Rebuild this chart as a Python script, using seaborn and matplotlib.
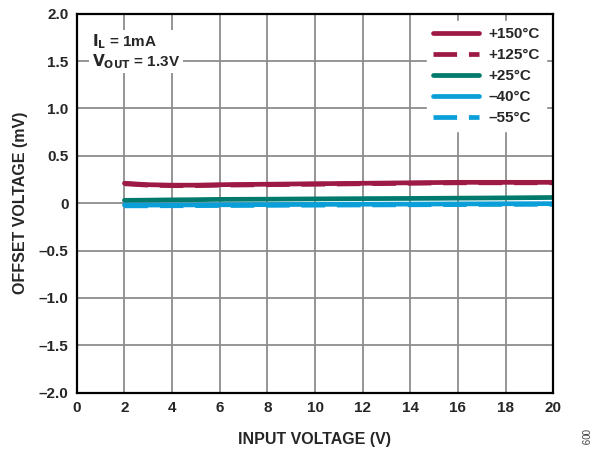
import numpy as np
import pandas as pd
import matplotlib
matplotlib.use('Agg')
import matplotlib.pyplot as plt
import seaborn as sns

# Data
input_voltage = [2, 3, 4, 5, 6, 8, 10, 12, 14, 16, 18, 20]
offset_150 = [0.21, 0.195, 0.19, 0.19, 0.195, 0.20, 0.205, 0.21, 0.215, 0.22, 0.22, 0.22]
offset_125 = [0.205, 0.19, 0.185, 0.185, 0.19, 0.195, 0.20, 0.205, 0.21, 0.215, 0.215, 0.215]
offset_25 = [0.03, 0.032, 0.035, 0.037, 0.04, 0.042, 0.045, 0.048, 0.05, 0.053, 0.056, 0.06]
offset_m40 = [-0.02, -0.02, -0.019, -0.018, -0.017, -0.015, -0.013, -0.011, -0.01, -0.008, -0.006, -0.005]
offset_m55 = [-0.028, -0.028, -0.027, -0.026, -0.025, -0.023, -0.021, -0.019, -0.017, -0.015, -0.013, -0.012]

series_labels = ['+150°C', '+125°C', '+25°C', '\u201340°C', '\u201355°C']
x_ticks = [0, 2, 4, 6, 8, 10, 12, 14, 16, 18, 20]
y_ticks = [-2.0, -1.5, -1.0, -0.5, 0, 0.5, 1.0, 1.5, 2.0]
y_tick_labels = ['\u20132.0', '\u20131.5', '\u20131.0', '\u20130.5', '0', '0.5', '1.0', '1.5', '2.0']

# Build one long table for seaborn
series_values = [offset_150, offset_125, offset_25, offset_m40, offset_m55]
frames = []
for label, vals in zip(series_labels, series_values):
    frames.append(pd.DataFrame({'vin': input_voltage, 'vos': vals, 'temp': label}))
data = pd.concat(frames, ignore_index=True)

sns.set_style('white')
plt.rcParams['font.family'] = ['Liberation Sans', 'DejaVu Sans']
plt.rcParams['font.weight'] = 'bold'

red = '#9c1a44'
teal = '#007a6c'
blue = '#0a9fd8'
palette = {series_labels[0]: red, series_labels[1]: red, series_labels[2]: teal,
           series_labels[3]: blue, series_labels[4]: blue}
dashes = {series_labels[0]: '', series_labels[1]: (5, 2.5), series_labels[2]: '',
          series_labels[3]: '', series_labels[4]: (5, 2.5)}

fig = plt.figure(figsize=(6, 4.49), dpi=100)
ax = fig.add_axes([0.128, 0.1255, 0.794, 0.844])

sns.lineplot(data=data, x='vin', y='vos', hue='temp', style='temp',
             hue_order=series_labels, style_order=series_labels,
             palette=palette, dashes=dashes, linewidth=3.4, ax=ax)

ax.set_xlim(0, 20)
ax.set_ylim(-2.0, 2.0)
ax.set_xticks(x_ticks)
ax.set_xticklabels([str(t) for t in x_ticks])
ax.set_yticks(y_ticks)
ax.set_yticklabels(y_tick_labels)
ax.tick_params(length=0, labelsize=11, pad=6)
ax.grid(True, color='#8c8c8c', linewidth=1.3)
ax.set_axisbelow(True)
for s in ax.spines.values():
    s.set_color('black')
    s.set_linewidth(1.6)

ax.set_xlabel('INPUT VOLTAGE (V)', fontsize=11.5, fontweight='bold', labelpad=12)
ax.set_ylabel('OFFSET VOLTAGE (mV)', fontsize=11.5, fontweight='bold', labelpad=8)

leg = ax.legend(loc='upper right', fontsize=11, frameon=True, handlelength=3.0,
                handletextpad=0.6, labelspacing=0.45, borderaxespad=0.5,
                borderpad=0.4, fancybox=False)
leg.get_frame().set_edgecolor('white')
leg.get_frame().set_facecolor('white')
leg.get_frame().set_alpha(1.0)
for line in leg.get_lines():
    line.set_linewidth(3.4)

ax.text(0.032, 0.95, '$\\mathbf{I_L}$ = 1mA\n$\\mathbf{V_{OUT}}$ = 1.3V',
        transform=ax.transAxes, fontsize=11, fontweight='bold', va='top', ha='left',
        linespacing=1.05,
        bbox=dict(facecolor='white', edgecolor='none', pad=2))

fig.text(0.973, 0.027, '009', rotation=270, fontsize=7, fontweight='normal',
         color='#444444', ha='center', va='center')

fig.savefig('out.png', dpi=100)
